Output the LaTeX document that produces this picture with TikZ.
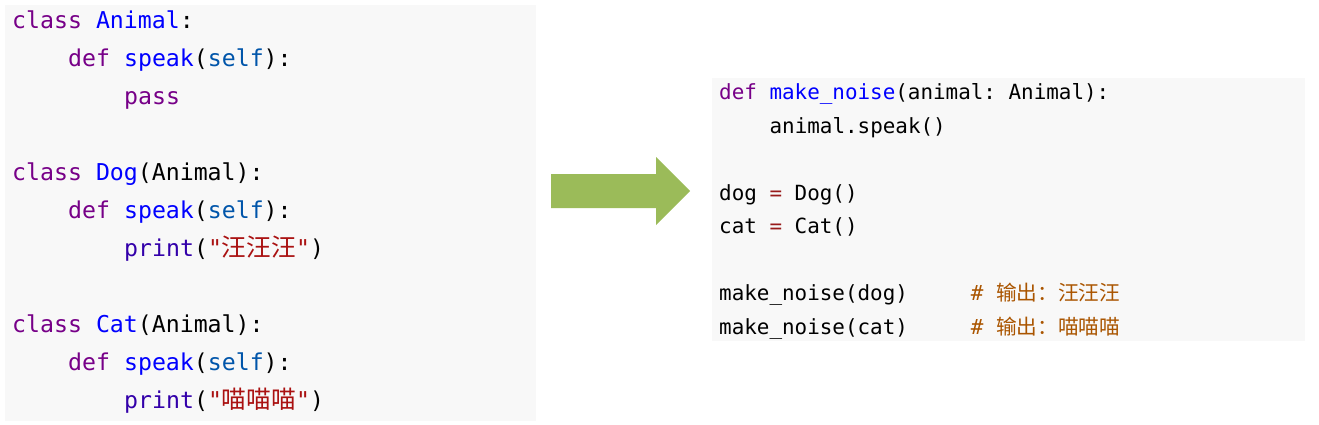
\documentclass[tikz,border=0pt]{standalone}
\usepackage{fontspec}
\setmonofont{DejaVu Sans Mono}
\newfontfamily\cjk{Noto Sans CJK SC}
\usepackage{tikz}
\definecolor{codebg}{HTML}{F8F8F8}
\definecolor{arrowgreen}{HTML}{9BBB59}
\definecolor{kwcol}{HTML}{770088}
\definecolor{fncol}{HTML}{0000FF}
\definecolor{selfcol}{HTML}{0055AA}
\definecolor{bicol}{HTML}{3300AA}
\definecolor{strcol}{HTML}{AA1111}
\definecolor{comcol}{HTML}{AA5500}
\definecolor{opcol}{HTML}{981A1A}
\newcommand{\ckw}[1]{\textcolor{kwcol}{#1}}
\newcommand{\cfn}[1]{\textcolor{fncol}{#1}}
\newcommand{\cself}[1]{\textcolor{selfcol}{#1}}
\newcommand{\cbi}[1]{\textcolor{bicol}{#1}}
\newcommand{\cstr}[1]{\textcolor{strcol}{#1}}
\newcommand{\ccom}[1]{\textcolor{comcol}{#1}}
\newcommand{\cop}[1]{\textcolor{opcol}{#1}}
\newcommand{\zhL}[1]{{\cjk\fontsize{24.7}{28}\selectfont #1}}
\newcommand{\zhR}[1]{{\cjk\fontsize{20.7}{25}\selectfont #1}}

\begin{document}
\begin{tikzpicture}[x=1pt,y=-1pt,
    codeL/.style={anchor=base west, inner sep=0pt, font=\ttfamily\fontsize{23.2}{28}\selectfont\frenchspacing},
    codeR/.style={anchor=base west, inner sep=0pt, font=\ttfamily\fontsize{20.9}{25}\selectfont\frenchspacing}]
    \useasboundingbox (0,0) rectangle (1319,425);
    \fill[codebg] (5,5) rectangle (536,421);
    \fill[codebg] (712,78) rectangle (1305,341);
    \fill[arrowgreen] (551,174) -- (656,174) -- (656,157) -- (690,191)
        -- (656,225) -- (656,208) -- (551,208) -- cycle;

    % classes
    \node[codeL](l1) at (12,28.5) {\ckw{class} \cfn{Animal}:};
    \node[codeL](l2) at (68,66.5) {\ckw{def} \cfn{speak}(\cself{self}):};
    \node[codeL](l3) at (124,104.5) {\ckw{pass}};
    \node[codeL](l5) at (12,180.5) {\ckw{class} \cfn{Dog}(Animal):};
    \node[codeL](l6) at (68,218.5) {\ckw{def} \cfn{speak}(\cself{self}):};
    \node[codeL](l7) at (124,256.5) {\cbi{print}(\cstr{"\zhL{汪汪汪}"})};
    \node[codeL](l9) at (12,332.5) {\ckw{class} \cfn{Cat}(Animal):};
    \node[codeL](l10) at (68,370.5) {\ckw{def} \cfn{speak}(\cself{self}):};
    \node[codeL](l11) at (124,408.5) {\cbi{print}(\cstr{"\zhL{喵喵喵}"})};

    % usage
    \node[codeR](r1) at (719,100) {\ckw{def} \cfn{make\_noise}(animal: Animal):};
    \node[codeR](r2) at (769.4,133.4) {animal.speak()};
    \node[codeR](r4) at (719,200.3) {dog \cop{=} Dog()};
    \node[codeR](r5) at (719,233.7) {cat \cop{=} Cat()};
    \node[codeR](r7) at (719,300.6) {make\_noise(dog)\phantom{00000}\ccom{\#\phantom{0}\zhR{输出：汪汪汪}}};
    \node[codeR](r8) at (719,334) {make\_noise(cat)\phantom{00000}\ccom{\#\phantom{0}\zhR{输出：喵喵喵}}};
\end{tikzpicture}
\end{document}
